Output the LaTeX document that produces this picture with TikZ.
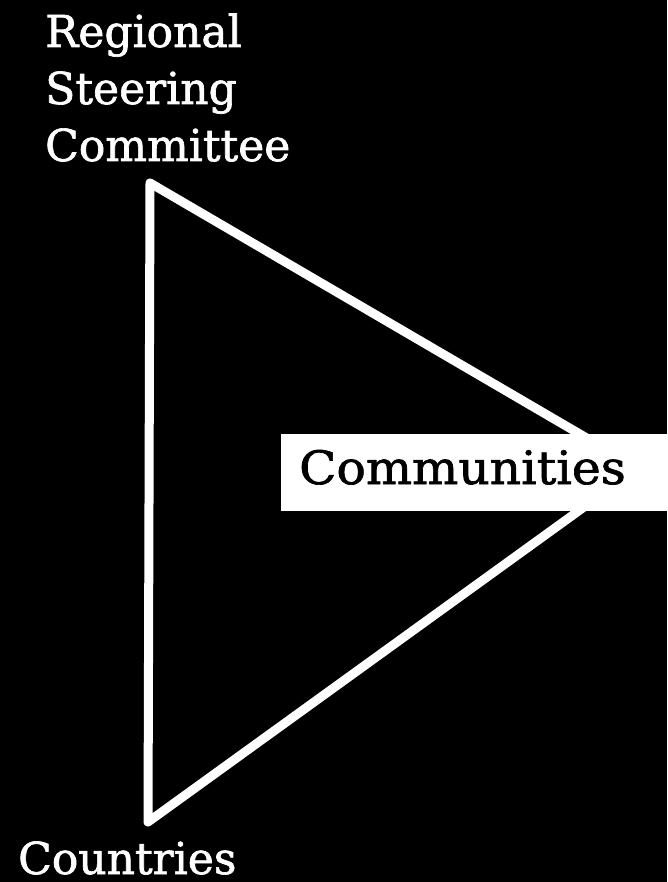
\documentclass[tikz,border=0pt]{standalone}
\usepackage{fontspec}
\setmainfont[FakeBold=1.5]{DejaVu Serif}
\begin{document}
\begin{tikzpicture}[x=1pt,y=-1pt,
  lbl/.style={font=\fontsize{44}{52}\selectfont, inner sep=0pt, anchor=base west},
  tri/.style={draw=white, line width=9pt, line join=round},
  whitebox/.style={fill=white, draw=none, minimum width=386pt, minimum height=77pt, inner sep=0pt}]
\fill[black] (0,0) rectangle (667,882);
\useasboundingbox (0,0) rectangle (667,882);
\coordinate (top) at (150,183);
\coordinate (bot) at (148,822);
\coordinate (tip) at (638,468);
\draw[tri] (top) -- (tip) -- (bot) -- cycle;
\node[whitebox] (box) at (474,472.5) {};
\node[lbl, text=black, font=\fontsize{46}{52}\selectfont\addfontfeature{FakeStretch=1.06}] (comm) at (299,484) {Communities};
\node[lbl, text=white] (r1) at (45,47) {Regional};
\node[lbl, text=white] (r2) at (45,104) {Steering};
\node[lbl, text=white] (r3) at (45,161) {Committee};
\node[lbl, text=white, text depth=0pt] (ctry) at (18,874) {Countries};
\end{tikzpicture}
\end{document}
